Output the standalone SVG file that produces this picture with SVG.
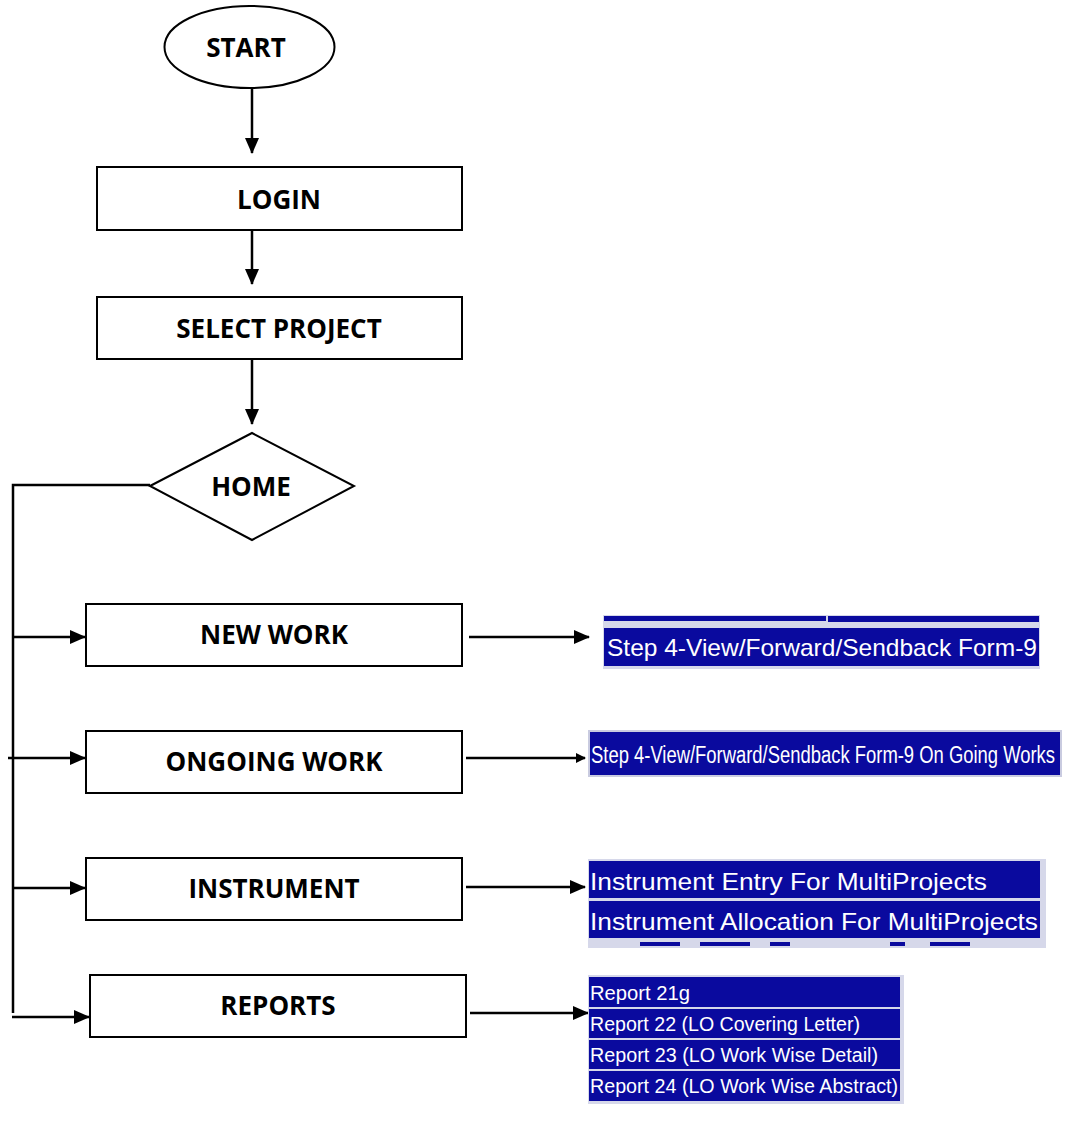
<svg xmlns="http://www.w3.org/2000/svg" width="1067" height="1122" viewBox="0 0 1067 1122">
<style>
.n{fill:#fff;stroke:#000;stroke-width:2}
.t{font-family:"Open Sans",sans-serif;font-weight:700;font-size:26px;fill:#000;text-anchor:middle;dominant-baseline:central}
.c{fill:none;stroke:#000;stroke-width:2.5}
.p{fill:#0a0a9e;stroke:#c9cbe0;stroke-width:2}
.pt{font-family:"Liberation Sans",Arial,sans-serif;fill:#fff;font-size:24px}
.rt{font-family:"Liberation Sans",Arial,sans-serif;fill:#fff;font-size:20px}
</style>
<defs>
<marker id="ah" markerWidth="10" markerHeight="10" refX="9" refY="5" orient="auto" markerUnits="userSpaceOnUse" viewBox="0 0 10 10">
<path d="M0,0 L10,5 L0,10 Z" fill="#000"/>
</marker>
<marker id="ahb" markerWidth="16" markerHeight="14" refX="15" refY="7" orient="auto" markerUnits="userSpaceOnUse" viewBox="0 0 16 14">
<path d="M0,0 L16,7 L0,14 Z" fill="#000"/>
</marker>
</defs>
<rect width="1067" height="1122" fill="#fff"/>
<g id="connectors">
<path class="c" d="M252,89 V153" marker-end="url(#ahb)"/>
<path class="c" d="M252,230 V284" marker-end="url(#ahb)"/>
<path class="c" d="M252,359 V424" marker-end="url(#ahb)"/>
<path class="c" d="M150,485 H13 V1013"/>
<path class="c" d="M13,637 H85" marker-end="url(#ahb)"/>
<path class="c" d="M8,758 H85" marker-end="url(#ahb)"/>
<path class="c" d="M13,888 H85" marker-end="url(#ahb)"/>
<path class="c" d="M12,1017 H89" marker-end="url(#ahb)"/>
<path class="c" d="M469,637 H589" marker-end="url(#ahb)"/>
<path class="c" d="M466,758 H585" marker-end="url(#ah)"/>
<path class="c" d="M466,887 H585" marker-end="url(#ahb)"/>
<path class="c" d="M470,1013 H588" marker-end="url(#ahb)"/>
</g>
<g id="start">
<ellipse class="n" cx="249.5" cy="47" rx="85" ry="41"/>
<text class="t" x="246" y="47">START</text>
</g>
<g id="login">
<rect class="n" x="97" y="167" width="365" height="63"/>
<text class="t" x="279" y="199">LOGIN</text>
</g>
<g id="select-project">
<rect class="n" x="97" y="297" width="365" height="62"/>
<text class="t" x="279" y="328">SELECT PROJECT</text>
</g>
<g id="home">
<polygon class="n" points="150,486 252,433 354,486 252,540"/>
<text class="t" x="251" y="486">HOME</text>
</g>
<g id="new-work">
<rect class="n" x="86" y="604" width="376" height="62"/>
<text class="t" x="274" y="634">NEW WORK</text>
</g>
<g id="ongoing-work">
<rect class="n" x="86" y="731" width="376" height="62"/>
<text class="t" x="274" y="761">ONGOING WORK</text>
</g>
<g id="instrument">
<rect class="n" x="86" y="858" width="376" height="62"/>
<text class="t" x="274" y="888">INSTRUMENT</text>
</g>
<g id="reports">
<rect class="n" x="90" y="975" width="376" height="62"/>
<text class="t" x="278" y="1005">REPORTS</text>
</g>
<g id="new-work-panel">
<rect x="603" y="615" width="437" height="54" fill="#d6d8ea"/>
<rect x="604" y="616" width="222" height="5" fill="#0a0a9e"/>
<rect x="828" y="616" width="211" height="6" fill="#0a0a9e"/>
<rect x="604" y="628" width="435" height="38" fill="#0a0a9e"/>
<text class="pt" x="607" y="656" textLength="430" lengthAdjust="spacingAndGlyphs">Step 4-View/Forward/Sendback Form-9</text>
</g>
<g id="ongoing-panel">
<rect class="p" x="589" y="731" width="472" height="45"/>
<text transform="translate(591,763) scale(1,1.3)" font-family="Liberation Sans, Arial, sans-serif" font-size="18.5" fill="#fff" textLength="464" lengthAdjust="spacingAndGlyphs">Step 4-View/Forward/Sendback Form-9 On Going Works</text>
</g>
<g id="instrument-panel">
<rect x="588" y="859" width="458" height="89" fill="#d6d8ea"/>
<rect x="589" y="861" width="451" height="37" fill="#0a0a9e"/>
<rect x="589" y="901" width="451" height="37" fill="#0a0a9e"/>
<rect x="640" y="942" width="40" height="4" fill="#0a0a9e"/>
<rect x="700" y="942" width="50" height="4" fill="#0a0a9e"/>
<rect x="770" y="942" width="20" height="4" fill="#0a0a9e"/>
<rect x="890" y="942" width="15" height="4" fill="#0a0a9e"/>
<rect x="930" y="942" width="40" height="4" fill="#0a0a9e"/>
<text class="pt" x="590" y="890" textLength="397" lengthAdjust="spacingAndGlyphs">Instrument Entry For MultiProjects</text>
<text class="pt" x="590" y="930" textLength="448" lengthAdjust="spacingAndGlyphs">Instrument Allocation For MultiProjects</text>
</g>
<g id="reports-panel">
<rect x="588" y="975" width="316" height="129" fill="#d6d8ea"/>
<rect x="589" y="977" width="311" height="30" fill="#0a0a9e"/>
<rect x="589" y="1009" width="311" height="29" fill="#0a0a9e"/>
<rect x="589" y="1040" width="311" height="29" fill="#0a0a9e"/>
<rect x="589" y="1071" width="311" height="30" fill="#0a0a9e"/>
<text class="rt" x="590" y="1000" textLength="100" lengthAdjust="spacingAndGlyphs">Report 21g</text>
<text class="rt" x="590" y="1031" textLength="270" lengthAdjust="spacingAndGlyphs">Report 22 (LO Covering Letter)</text>
<text class="rt" x="590" y="1062" textLength="288" lengthAdjust="spacingAndGlyphs">Report 23 (LO Work Wise Detail)</text>
<text class="rt" x="590" y="1093" textLength="308" lengthAdjust="spacingAndGlyphs">Report 24 (LO Work Wise Abstract)</text>
</g>
</svg>
